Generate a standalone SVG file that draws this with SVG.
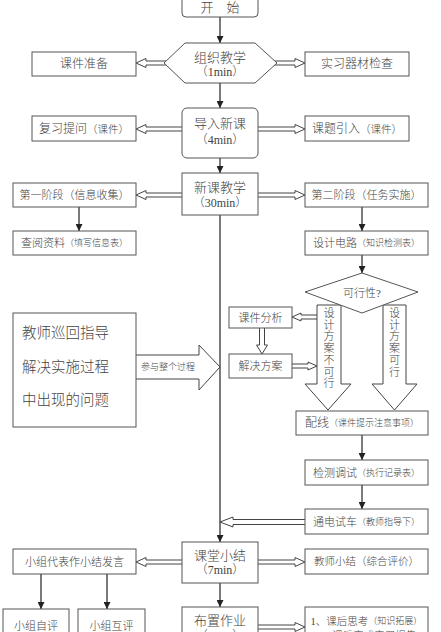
<svg xmlns="http://www.w3.org/2000/svg" width="441" height="632" viewBox="0 0 441 632">
<defs>
<marker id="ah" markerWidth="7" markerHeight="7" refX="7" refY="3.5" orient="auto" markerUnits="userSpaceOnUse"><path d="M0,0 L7,3.5 L0,7 Z" fill="#222"/></marker>
</defs>
<style>
.box{fill:#fff;stroke:#555;stroke-width:1}
.ln{stroke:#222;stroke-width:1.2;fill:none;marker-end:url(#ah)}
.ha{fill:#fff;stroke:#444;stroke-width:1}
text{font-family:"Liberation Serif","Noto Sans CJK SC",serif;font-weight:300;fill:#444;text-anchor:middle;dominant-baseline:central}
.s13{font-size:13px}
.s12{font-size:12px}
.s11{font-size:11px}
.s10{font-size:10.5px}
.s9{font-size:9px}
.big{font-size:14.5px;text-anchor:start}
</style>
<rect width="441" height="632" fill="#fff"/>
<g id="connectors">
<line class="ln" x1="220" y1="17" x2="220" y2="43"/>
<line class="ln" x1="220" y1="83" x2="220" y2="108"/>
<line class="ln" x1="220" y1="158" x2="220" y2="173"/>
<line class="ln" x1="220" y1="215" x2="220" y2="542"/>
<line class="ln" x1="220" y1="583" x2="220" y2="607"/>
<line class="ln" x1="79" y1="207" x2="79" y2="231"/>
<line class="ln" x1="362" y1="207" x2="362" y2="231"/>
<line class="ln" x1="362" y1="255" x2="362" y2="273"/>
<line class="ln" x1="362" y1="435" x2="362" y2="460"/>
<line class="ln" x1="362" y1="485" x2="362" y2="509"/>
<line class="ln" x1="41" y1="574" x2="41" y2="609"/>
<line class="ln" x1="107" y1="574" x2="107" y2="609"/>
<path class="ha" d="M170,61 H146 V58.5 L136,63 L146,67.5 V65 H170 Z"/>
<path class="ha" d="M271,61 H295 V58.5 L305,63 L295,67.5 V65 H271 Z"/>
<path class="ha" d="M185,127 H146 V124.5 L136,129 L146,133.5 V131 H185 Z"/>
<path class="ha" d="M255,127 H295 V124.5 L305,129 L295,133.5 V131 H255 Z"/>
<path class="ha" d="M185,193 H146 V190.5 L136,195 L146,199.5 V197 H185 Z"/>
<path class="ha" d="M255,193 H295 V190.5 L305,195 L295,199.5 V197 H255 Z"/>
<path class="ha" d="M185,560 H146 V557.5 L136,562 L146,566.5 V564 H185 Z"/>
<path class="ha" d="M255,560 H295 V557.5 L305,562 L295,566.5 V564 H255 Z"/>
<path class="ha" d="M255,625 H295 V622.5 L305,627 L295,631.5 V629 H255 Z"/>
<path class="ha" d="M308,519.5 H233 V517 L220,522 L233,527 V524.5 H308 Z"/>
<path class="ha" d="M320,315 H301 V313 L292,317 L301,321 V319 H320 Z"/>
<path class="ha" d="M290,364 H308 V362 L317,366 L308,370 V368 H290 Z"/>
<path class="ha" d="M259.5,326 V345 H256.5 L262,354 L267.5,345 H264.5 V326 Z"/>
<path class="ha" d="M136,355 H199 V345 L220,367 L199,390 V379 H136"/>
<path class="ha" d="M317,305 V384 H305 L328,410 L351,384 H341 V305 Z"/>
<path class="ha" d="M383,305 V384 H372 L394.5,410 L417,384 H406 V305 Z"/>
<text class="s9" x="168" y="367">参与整个过程</text>
<text class="s11"><tspan x="329" y="313">设</tspan><tspan x="329" y="324.7">计</tspan><tspan x="329" y="336.4">方</tspan><tspan x="329" y="348.1">案</tspan><tspan x="329" y="359.8">不</tspan><tspan x="329" y="371.5">可</tspan><tspan x="329" y="383.2">行</tspan></text>
<text class="s11"><tspan x="394.5" y="313">设</tspan><tspan x="394.5" y="324.7">计</tspan><tspan x="394.5" y="336.4">方</tspan><tspan x="394.5" y="348.1">案</tspan><tspan x="394.5" y="359.8">可</tspan><tspan x="394.5" y="371.5">行</tspan></text>
</g>
<g id="start"><rect class="box" x="182" y="-6" width="76" height="23" rx="4"/><text class="s13" x="220" y="7">开　始</text></g>
<g id="org"><polygon class="box" points="185,43 255,43 277,63 255,83 185,83 164,63"/><text class="s13" x="220" y="57">组织教学</text><text class="s12" x="220" y="72">（1min）</text></g>
<g id="prep"><rect class="box" x="32" y="52" width="104" height="24"/><text class="s12" x="84" y="64">课件准备</text></g>
<g id="check"><rect class="box" x="305" y="52" width="104" height="24"/><text class="s12" x="357" y="64">实习器材检查</text></g>
<g id="intro"><rect class="box" x="182" y="108" width="76" height="50" rx="5"/><text class="s13" x="220" y="123">导入新课</text><text class="s12" x="220" y="140">（4min）</text></g>
<g id="review"><rect class="box" x="32" y="116" width="104" height="25"/><text x="84" y="129"><tspan class="s12">复习提问</tspan><tspan class="s10">（课件）</tspan></text></g>
<g id="topic"><rect class="box" x="305" y="116" width="104" height="25"/><text x="357" y="129"><tspan class="s12">课题引入</tspan><tspan class="s10">（课件）</tspan></text></g>
<g id="newlesson"><rect class="box" x="182" y="173" width="76" height="42"/><text class="s13" x="220" y="187">新课教学</text><text class="s12" x="220" y="203">（30min）</text></g>
<g id="stage1"><rect class="box" x="13" y="183" width="123" height="24"/><text class="s11" x="74.5" y="195">第一阶段（信息收集）</text></g>
<g id="stage2"><rect class="box" x="305" y="183" width="123" height="24"/><text class="s11" x="366.5" y="195">第二阶段（任务实施）</text></g>
<g id="lookup"><rect class="box" x="13" y="231" width="123" height="24"/><text x="74.5" y="243"><tspan class="s11">查阅资料</tspan><tspan class="s9">（填写信息表）</tspan></text></g>
<g id="design"><rect class="box" x="305" y="231" width="123" height="24"/><text x="366.5" y="243"><tspan class="s11">设计电路</tspan><tspan class="s9">（知识检测表）</tspan></text></g>
<g id="feasible"><polygon class="box" points="362,273 418,292 362,313 305,292"/><text class="s11" x="362" y="293">可行性?</text></g>
<g id="analysis"><rect class="box" x="229" y="307" width="63" height="21"/><text class="s11" x="260.5" y="317.5">课件分析</text></g>
<g id="solution"><rect class="box" x="229" y="354" width="63" height="24"/><text class="s11" x="260.5" y="366">解决方案</text></g>
<g id="teacher"><rect class="box" x="13" y="313" width="123" height="114"/><text class="big" x="22" y="333">教师巡回指导</text><text class="big" x="22" y="367">解决实施过程</text><text class="big" x="22" y="400">中出现的问题</text></g>
<g id="wiring"><rect class="box" x="296" y="411" width="132" height="24"/><text x="362" y="423"><tspan class="s12">配线</tspan><tspan class="s9">（课件提示注意事项）</tspan></text></g>
<g id="test"><rect class="box" x="305" y="460" width="123" height="25"/><text x="366.5" y="472.5"><tspan class="s11">检测调试</tspan><tspan class="s9">（执行记录表）</tspan></text></g>
<g id="power"><rect class="box" x="305" y="509" width="123" height="25"/><text x="366.5" y="521.5"><tspan class="s11">通电试车</tspan><tspan class="s9">（教师指导下）</tspan></text></g>
<g id="summary"><rect class="box" x="182" y="542" width="76" height="41"/><text class="s13" x="220" y="555">课堂小结</text><text class="s12" x="220" y="570">（7min）</text></g>
<g id="groupspeak"><rect class="box" x="13" y="549" width="123" height="25"/><text class="s11" x="74.5" y="561.5">小组代表作小结发言</text></g>
<g id="teachersum"><rect class="box" x="305" y="549" width="123" height="25"/><text class="s10" x="366.5" y="561.5">教师小结（综合评价）</text></g>
<g id="selfeval"><rect class="box" x="3" y="609" width="66" height="40"/><text class="s11" x="36" y="626">小组自评</text></g>
<g id="mutualeval"><rect class="box" x="78" y="609" width="67" height="40"/><text class="s11" x="111.5" y="626">小组互评</text></g>
<g id="homework"><rect class="box" x="182" y="607" width="76" height="45"/><text class="s13" x="220" y="620">布置作业</text><text class="s12" x="220" y="636">（3min）</text></g>
<g id="tasks"><rect class="box" x="305" y="607" width="123" height="45"/><text x="366.5" y="621"><tspan class="s10">1、课后思考</tspan><tspan class="s9">（知识拓展）</tspan></text><text class="s10" x="366.5" y="635">2、课后完成实习报告</text></g>
</svg>
